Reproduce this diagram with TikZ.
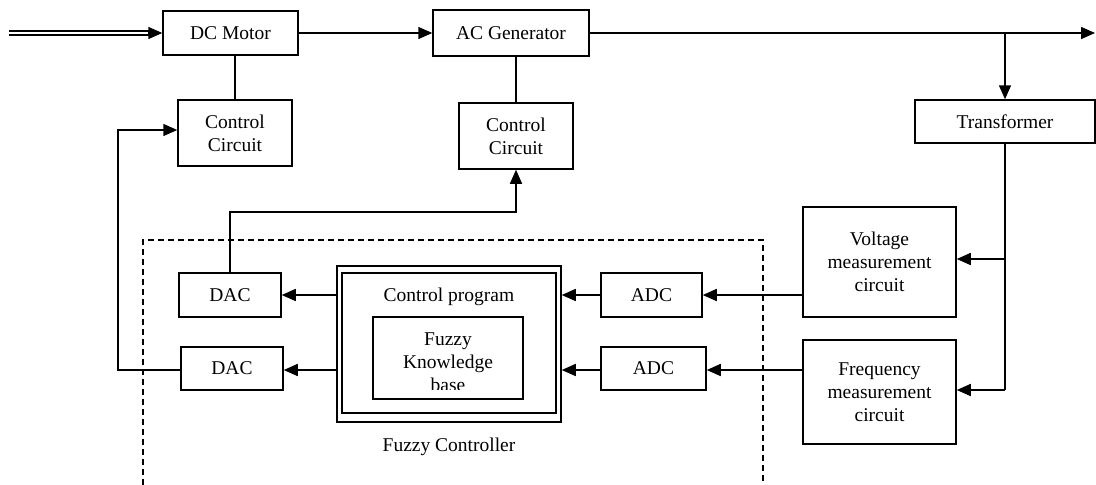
\documentclass[tikz,border=0pt]{standalone}
\usepackage{fontspec}
\setmainfont{Liberation Serif}
\usetikzlibrary{arrows.meta}
\tikzset{
  blk/.style={draw, line width=1.5pt, inner sep=0pt, align=center,
              font=\fontsize{19.5}{23}\selectfont},
  wire/.style={line width=1.5pt},
  arr/.style={wire, -{Triangle[length=14pt,width=12pt]}},
  lbl/.style={inner sep=0pt, align=center, font=\fontsize{19.5}{23}\selectfont},
}
\begin{document}
\begin{tikzpicture}[x=1pt,y=-1pt]
\useasboundingbox (0,0) rectangle (1096,485);

% power path
\node[blk, minimum width=135pt, minimum height=44pt] (dcm)   at (230.5,33) {DC Motor};
\node[blk, minimum width=156pt, minimum height=46pt] (acg)   at (511,33)   {AC Generator};
\node[blk, minimum width=114pt, minimum height=66pt] (dcc)   at (235,133) {Control\\Circuit};
\node[blk, minimum width=114pt, minimum height=66pt] (acc)   at (516,136)  {Control\\Circuit};
\node[blk, minimum width=180pt, minimum height=43pt] (trans) at (1005,121.5) {Transformer};

% measurement
\node[blk, minimum width=153pt, minimum height=110pt] (volt) at (879.5,262) {Voltage\\measurement\\circuit};
\node[blk, minimum width=153pt, minimum height=104pt] (freq) at (879.5,392) {Frequency\\measurement\\circuit};

% converters
\node[blk, minimum width=101pt, minimum height=44pt] (adc1) at (651.5,295) {ADC};
\node[blk, minimum width=105pt, minimum height=43pt] (adc2) at (653.5,368.5) {ADC};
\node[blk, minimum width=102pt, minimum height=44pt] (dac1) at (230,295) {DAC};
\node[blk, minimum width=102pt, minimum height=43pt] (dac2) at (232,368.5) {DAC};

% fuzzy controller
\node[blk, minimum width=224pt, minimum height=156pt] (outer) at (449,344) {};
\node[blk, minimum width=214pt, minimum height=140pt] (inner) at (449,343) {};
\node[lbl] (prog) at (449,297) {Control program};
\node[blk, minimum width=150pt, minimum height=82pt] (kb) at (448,358) {};
\begin{scope}
  \clip (kb.north west) rectangle (523,389);
  \node[lbl, anchor=north] (kbtext) at (448,333) {Fuzzy\\Knowledge\\base};
\end{scope}
\node[lbl] (fc) at (449,447) {Fuzzy Controller};

% dashed boundary, open at the bottom
\draw[line width=1.3pt, dash pattern=on 6pt off 4pt]
  (143,485) -- (143,240) -- (763,240) -- (763,485);

% supply input (double line)
\coordinate (in) at (9,33);
\draw[line width=1.5pt, double distance=2.4pt] (in) -- ([xshift=-12pt]dcm.west);
\draw[arr] ([xshift=-14pt]dcm.west) -- (dcm.west);

% main chain
\draw[arr] (dcm.east) -- (acg.west);
\coordinate (out) at (1095,33);
\draw[arr] (acg.east) -- (out);
\coordinate (tap) at (trans.north |- acg.east);
\draw[arr] (tap) -- (trans.north);
\draw[wire] (dcm.south -| dcc.north) -- (dcc.north);
\draw[wire] (acg.south -| acc.north) -- (acc.north);

% transformer to measurement circuits
\coordinate (vtap) at (trans.south |- 0,259);
\coordinate (ftap) at (trans.south |- 0,390);
\draw[wire] (trans.south) -- (ftap);
\draw[arr] (vtap) -- (volt.east |- vtap);
\draw[arr] (ftap) -- (freq.east |- ftap);

% measurement to ADCs to controller
\draw[arr] (volt.west |- adc1.east) -- (adc1.east);
\draw[arr] (freq.west |- 0,370) -- (adc2.east |- 0,370);
\draw[arr] (adc1.west) -- (outer.east |- adc1.west);
\draw[arr] (adc2.west |- 0,370) -- (outer.east |- 0,370);

% controller to DACs
\draw[arr] (outer.west |- dac1.east) -- (dac1.east);
\draw[arr] (outer.west |- 0,370) -- (dac2.east |- 0,370);

% DAC outputs to control circuits
\draw[arr] (dac1.north) -- (dac1.north |- 0,212) -- (acc.south |- 0,212) -- (acc.south);
\draw[arr] (dac2.west |- 0,370) -- (118,370) -- (118,130) -- (dcc.west |- 0,130);
\end{tikzpicture}
\end{document}
